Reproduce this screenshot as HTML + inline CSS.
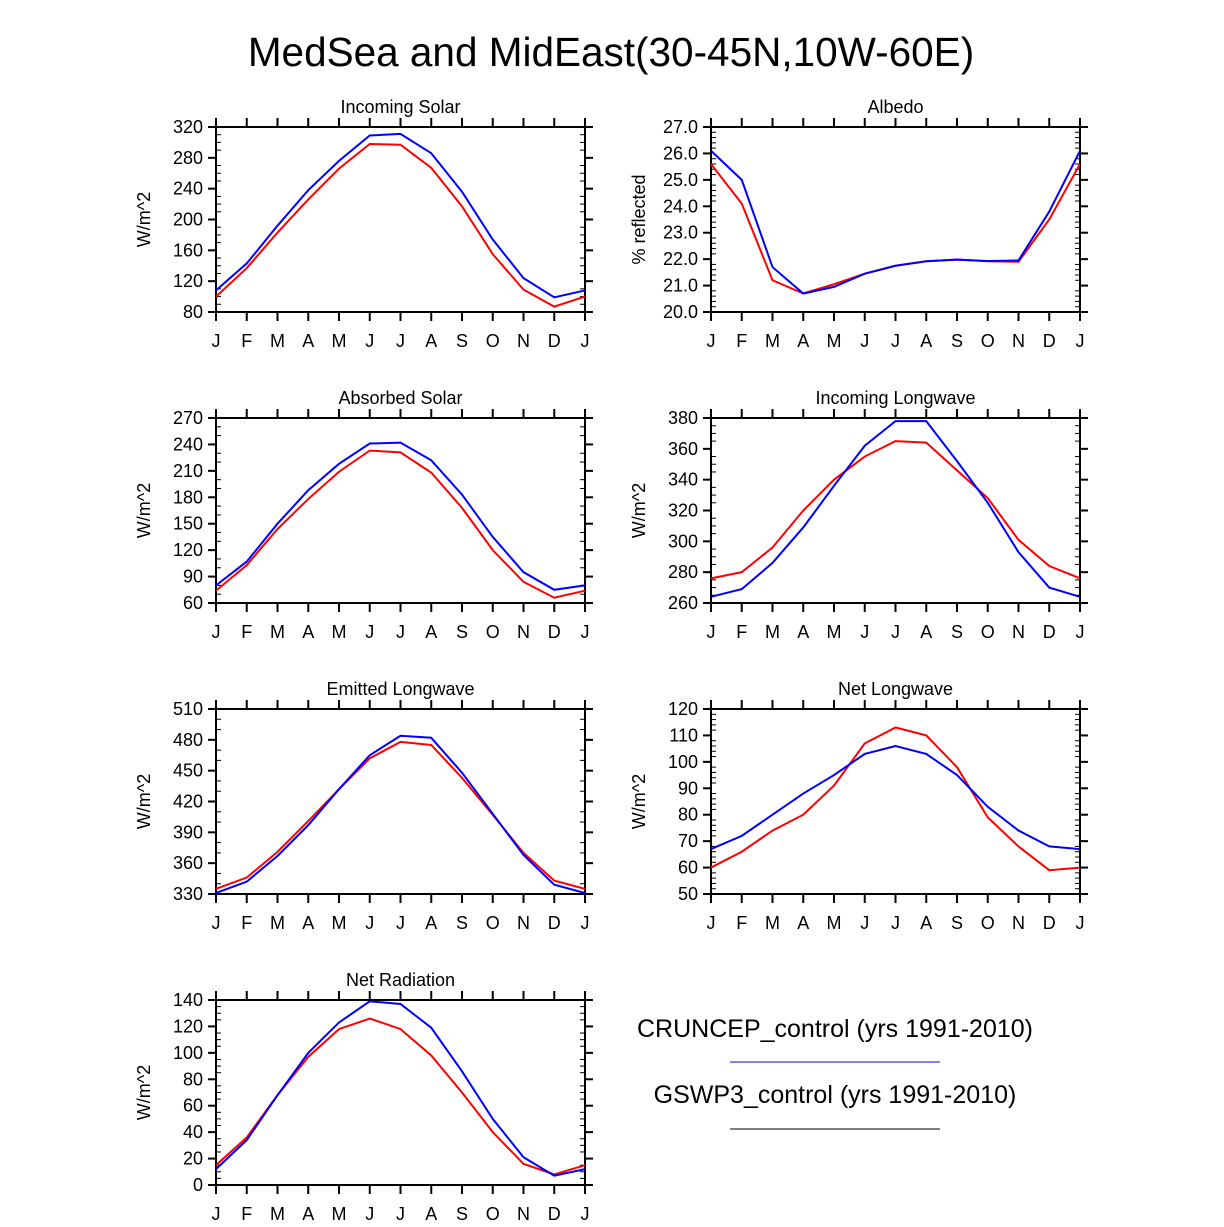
<!DOCTYPE html>
<html><head><meta charset="utf-8"><style>
body{margin:0;background:#fff;}
svg text{font-family:"Liberation Sans",sans-serif;fill:#000;}
</style></head><body>
<svg id="c" width="1224" height="1222" xmlns="http://www.w3.org/2000/svg">
<text x="611" y="66" font-size="40.5" text-anchor="middle">MedSea and MidEast(30-45N,10W-60E)</text>
<text x="835" y="1037" font-size="25" text-anchor="middle">CRUNCEP_control (yrs 1991-2010)</text>
<line x1="730" y1="1062" x2="940" y2="1062" stroke="#00f" stroke-width="1"/>
<text x="835" y="1103" font-size="25" text-anchor="middle">GSWP3_control (yrs 1991-2010)</text>
<line x1="730" y1="1129" x2="940" y2="1129" stroke="#000" stroke-width="1"/>
</svg>
<script>
const months = ["J","F","M","A","M","J","J","A","S","O","N","D","J"];
const solarBlue = [108,143,192,238,276,309,311,286,236,174,124,99,108];
const solarRed = [100,137,183,226,266,298,297,267,217,155,109,87,100];
const albedoBlue = [26.1,25.0,21.7,20.7,20.95,21.45,21.75,21.92,21.98,21.93,21.95,23.8,26.1];
const albedoRed = [25.6,24.1,21.2,20.7,21.05,21.45,21.75,21.92,21.98,21.92,21.9,23.5,25.6];
const absorbedBlue = [80,107,150,188,218,241,242,222,183,135,95,75,80];
const absorbedRed = [74,103,144,178,209,233,231,208,168,120,84,66,74];
const inLwBlue = [264,269,286,309,336,362,378,378,352,325,293,270,264];
const inLwRed = [276,280,296,320,340,355,365,364,346,328,301,284,276];
const emLwBlue = [331,342,367,397,432,465,484,482,448,408,368,339,331];
const emLwRed = [335,346,371,401,432,462,478,475,443,407,370,343,335];
const netLwBlue = [67,72,80,88,95,103,106,103,95,83,74,68,67];
const netLwRed = [60,66,74,80,91,107,113,110,98,79,68,59,60];
const netRadBlue = [12,34,68,100,123,139,137,119,86,50,21,7,12];
const netRadRed = [15,36,68,97,118,126,118,98,70,40,16,8,15];

const panels = [
 {name:"incoming-solar",title:"Incoming Solar",yl:"W/m^2",x:216,y:127,min:80,max:320,step:40,minor:4,dec:0,b:solarBlue,r:solarRed},
 {name:"albedo",title:"Albedo",yl:"% reflected",x:711,y:127,min:20,max:27,step:1,minor:5,dec:1,b:albedoBlue,r:albedoRed},
 {name:"absorbed-solar",title:"Absorbed Solar",yl:"W/m^2",x:216,y:418,min:60,max:270,step:30,minor:3,dec:0,b:absorbedBlue,r:absorbedRed},
 {name:"incoming-longwave",title:"Incoming Longwave",yl:"W/m^2",x:711,y:418,min:260,max:380,step:20,minor:4,dec:0,b:inLwBlue,r:inLwRed},
 {name:"emitted-longwave",title:"Emitted Longwave",yl:"W/m^2",x:216,y:709,min:330,max:510,step:30,minor:3,dec:0,b:emLwBlue,r:emLwRed},
 {name:"net-longwave",title:"Net Longwave",yl:"W/m^2",x:711,y:709,min:50,max:120,step:10,minor:5,dec:0,b:netLwBlue,r:netLwRed},
 {name:"net-radiation",title:"Net Radiation",yl:"W/m^2",x:216,y:1000,min:0,max:140,step:20,minor:4,dec:0,b:netRadBlue,r:netRadRed}
];
const W=369,H=185,NS="http://www.w3.org/2000/svg";
const svg=document.getElementById("c");
function mk(tag,attrs,parent){const e=document.createElementNS(NS,tag);for(const k in attrs)e.setAttribute(k,attrs[k]);(parent||svg).appendChild(e);return e;}
panels.forEach(p=>{
 const g=mk("g",{});
 
 
 const xs=i=>p.x+i*W/12;
 const ys=v=>p.y+H-(v-p.min)/(p.max-p.min)*H;
 const fr=mk("rect",{x:p.x,y:p.y,width:W,height:H,fill:"none",stroke:"#000","stroke-width":2},g);
 
 
 months.forEach((m,i)=>{
  const x=xs(i);
  mk("line",{x1:x,y1:p.y+H,x2:x,y2:p.y+H+9,stroke:"#000","stroke-width":2},g);
  mk("line",{x1:x,y1:p.y,x2:x,y2:p.y-9,stroke:"#000","stroke-width":2},g);
  const t=mk("text",{x:x,y:p.y+H+35,"font-size":18,"text-anchor":"middle"},g);
  t.textContent=m;
  
  
 });
 const nMaj=Math.round((p.max-p.min)/p.step);
 for(let k=0;k<=nMaj;k++){
  const v=p.min+k*p.step,y=ys(v);
  mk("line",{x1:p.x-8,y1:y,x2:p.x,y2:y,stroke:"#000","stroke-width":2},g);
  mk("line",{x1:p.x+W,y1:y,x2:p.x+W+8,y2:y,stroke:"#000","stroke-width":2},g);
  const t=mk("text",{x:p.x-13,y:y+6,"font-size":18,"text-anchor":"end"},g);
  t.textContent=v.toFixed(p.dec);
  
  
  if(k<nMaj){for(let j=1;j<p.minor;j++){const yy=ys(v+j*p.step/p.minor);
   mk("line",{x1:p.x,y1:yy,x2:p.x+5,y2:yy,stroke:"#000","stroke-width":1},g);
   mk("line",{x1:p.x+W-5,y1:yy,x2:p.x+W,y2:yy,stroke:"#000","stroke-width":1},g);}}
 }
 const tt=mk("text",{x:p.x+W/2,y:p.y-14,"font-size":18,"text-anchor":"middle"},g);
 tt.textContent=p.title;
 
 
 const yl=mk("text",{x:0,y:0,"font-size":18,"text-anchor":"middle",transform:`translate(${p.x-66},${p.y+H/2}) rotate(-90)`},g);
 yl.textContent=p.yl;
 
 
 [[p.r,"#f00","red"],[p.b,"#00f","blue"]].forEach(([d,c,n])=>{
  const pts=d.map((v,i)=>xs(i)+","+ys(v)).join(" ");
  const l=mk("polyline",{points:pts,fill:"none",stroke:c,"stroke-width":2},g);
  
  
 });
});
</script>
</body></html>
